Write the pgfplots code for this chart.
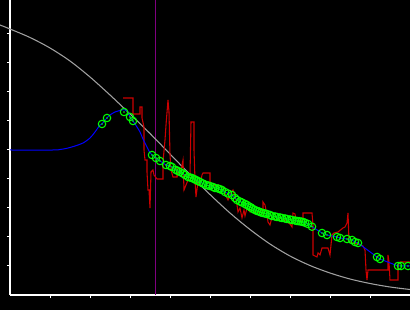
\documentclass[border=0pt]{standalone}
\usepackage{pgfplots}
\pgfplotsset{compat=1.18}
\definecolor{cred}{RGB}{204,0,0}
\definecolor{cgray}{RGB}{160,160,160}
\definecolor{cblue}{RGB}{0,0,255}
\definecolor{cgreen}{RGB}{0,255,0}
\definecolor{cpurple}{RGB}{128,0,128}
\pgfplotstableread{
x y
-10 270
0 266
20 257.5
40 247
60 234
80 218
100 200
120 181
140 161.5
160 141
180 120.5
200 100.5
220 82
240 65.5
260 51
280 39
300 29.5
320 22
340 16
360 11.5
380 8
400 5.5
}\graydata
\pgfplotstableread{
x y
0 145
43 145
50 145.5
57 146.7
65 149
73 152
80 157
85 163
90 170
92 171
95 175
97 177
100 180
105 183
110 184.5
113 185.3
117 184.2
120 178
123 174
127 168
130 163
133 156
136 150
139 144
142 140
}\bluecurve
\pgfplotstableread{
x y
142 140
146 137
150 134
156 130
162 128
166 125
170 123
175 120
178 118
182 117
186 115
190 113
193 111.5
196 110
200 109
203 108
208 106.5
212 105
215 103
218 101.5
222 100
227 95
232 92.5
237 90
241 87.5
245 85
249 83.5
253 82
257 81
262 79
267 78
272 77
277 76
282 75
287 74
291 73.5
295 72.3
298 71
302 68.3
312 62
317 60
327 58
330 57
337 56
342 55
345 53
348 52
367 38
370 36
388 29
391 29
398 29
400 29
}\bluedata
\pgfplotstableread{
x y
92 171
97 177
114 183
120 178
123 174
142 140
146 137
150 134
156 130
160 129
162 128
166 125
168 124
170 123
173 121.5
175 120
178 118
180 117.5
182 117
184 116
186 115
188 114
190 113
193 111.5
196 110
198 109.5
200 109
203 108
205 107
208 106.5
210 105.8
212 105
215 103
218 101.5
222 100
225 97
227 95
230 93.5
232 92.5
235 91
237 90
239 88.7
241 87.5
243 86
245 85
247 84
249 83.5
251 82.5
253 82
255 81.5
257 81
260 80
262 79
265 78.5
267 78
270 77.5
272 77
275 76.5
277 76
280 75.5
282 75
285 74.5
287 74
289 73.8
291 73.5
293 73
295 72.3
298 71
302 68.3
312 62
317 60
327 58
330 57
337 56
342 55
345 53
348 52
367 38
370 36
388 29
391 29
398 29
}\greendata
\pgfplotstableread{
x y
113 197
123 197
123 181
130 181
130 188
132 188
132 177
134 168
134 145
135 135
137 135
137 123
138 105
139 105
140 87
141 123
143 125
144 120
147 116
153 116
153 133
155 155
156 170
158 195
159 183
160 140
161 125
163 118
167 118
167 128
168 120
171 125
173 135
174 105
176 110
178 115
180 120
181 173
184 173
184 145
185 115
186 98
188 113
190 110
192 120
193 122
200 122
200 111
203 109
208 110
213 108
216 99
218 95
221 102
223 105
226 95
227 90
228 83
230 87
232 77
234 85
235 79
237 87
240 83
243 85
246 81
249 83
252 85
253 80
253 93
255 90
257 80
258 73
260 70
262 78
265 75
270 77
275 75
277 73
280 71
282 68
283 82
285 81
286 75
288 73
293 75
293 82
302 82
303 70
303 40
307 38
308 42
310 40
312 47
318 47
320 40
322 60
324 62
328 63
333 67
335 68
337 72
338 82
339 54
342 52
348 51
353 49
355 45
356 25
357 15
358 25
378 25
378 40
379 33
380 15
388 15
388 29
390 33
400 33
}\reddata
\begin{document}
\begin{tikzpicture}
\fill[black] (0,0) rectangle (307.5pt,232.5pt);
\begin{axis}[
  at={(7.5pt,11.25pt)}, anchor=south west,
  scale only axis, width=300pt, height=221.25pt,
  xmin=0, xmax=400, ymin=0, ymax=295,
  axis x line=bottom, axis y line=left,
  axis line style={white, line width=0.8pt, -},
  xtick={40,80,...,400}, ytick={29,58,...,261},
  xticklabels={}, yticklabels={},
  tick align=outside, major tick length=2.4pt,
  tick style={white, line width=0.75pt},
  clip=false,
]
\addplot[cpurple, line width=0.75pt] coordinates {(145,0) (145,295)};
\addplot[cgray, line width=0.8pt, smooth] table {\graydata};
\addplot[cred, line width=0.8pt] table {\reddata};
\addplot[cblue, line width=0.75pt, smooth] table {\bluecurve};
\addplot[cblue, line width=0.75pt] table {\bluedata};
\addplot[only marks, mark=o, mark size=2.8pt, mark options={cgreen, line width=0.8pt}] table {\greendata};
\addplot[only marks, mark=*, mark size=0.35pt, mark options={cgreen}] table {\greendata};
\end{axis}
\pgfresetboundingbox
\path (0,0) rectangle (307.5pt,232.5pt);
\end{tikzpicture}
\end{document}
